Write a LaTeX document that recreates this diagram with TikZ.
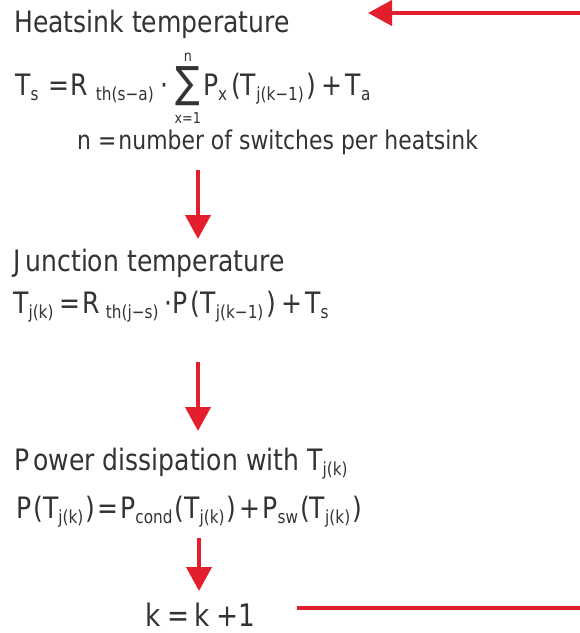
\documentclass[tikz,border=0pt]{standalone}
\usepackage{fontspec}
\setmainfont{DejaVu Sans}[FakeStretch=0.85]
\usetikzlibrary{arrows.meta}
\definecolor{txt}{RGB}{51,51,51}
\definecolor{redc}{RGB}{227,30,45}
\newcommand\fmain{\fontsize{29.5}{30}\selectfont}
\newcommand\sbx[1]{\raisebox{-5pt}{\fontsize{18}{18}\selectfont #1}}
\newcommand\limtxt[1]{\hbox{\fontsize{15}{15}\selectfont #1}}
\newcommand\bigsum{\mbox{$\displaystyle\mathop{\raisebox{-2pt}{\fontsize{43}{43}\selectfont ∑}}\limits^{\limtxt{n\rule[-3pt]{0pt}{3pt}}}_{\limtxt{\rule{0pt}{17pt}x=1}}$}}
\begin{document}
\begin{tikzpicture}[x=1pt,y=-1pt,
  txtnode/.style={anchor=base west, inner sep=0pt, text=txt, font=\fmain},
  flow/.style={draw=redc, line width=4pt, -{Triangle[length=24pt,width=25pt]}},
  loopline/.style={draw=redc, line width=4pt}]
\useasboundingbox (0,0) rectangle (580,633);
\node[txtnode] (h1) at (14,32) {Heatsink temperature};
\node[txtnode] (f1) at (15,95) {T\sbx{s}\hspace{10pt}=\hspace{1pt}R\hspace{8pt}\sbx{th(s−a)}\hspace{7pt}⋅\hspace{6pt}\bigsum\hspace{2pt}P\sbx{x}\hspace{4pt}(T\sbx{j(k−1)}\hspace{3pt})\hspace{5pt}+\hspace{3pt}T\sbx{a}};
\node[txtnode, font=\fontsize{25.8}{28}\selectfont] (nl) at (77,149) {n =\hspace{2pt}number of switches per heatsink};
\node[txtnode] (h2) at (13,271) {J\hspace{5pt}unction temperature};
\node[txtnode] (f2) at (13,313) {T\sbx{j(k)}\hspace{6pt}=\hspace{2pt}R\hspace{6pt}\sbx{th(j−s)}\hspace{6pt}⋅P\hspace{3pt}(T\sbx{j(k−1)}\hspace{3pt})\hspace{5pt}+\hspace{3pt}T\sbx{s}};
\node[txtnode] (h3) at (14,470) {P\hspace{4pt}ower dissipation with T\sbx{j(k)}};
\node[txtnode] (f3) at (16,518) {P\hspace{2pt}(T\sbx{j(k)}\hspace{2pt})\hspace{2pt}=\hspace{2pt}P\sbx{cond}\hspace{2pt}(T\sbx{j(k)}\hspace{2pt})\hspace{3pt}+\hspace{2pt}P\sbx{sw}\hspace{2pt}(T\sbx{j(k)}\hspace{2pt})};
\node[txtnode, font=\fontsize{31}{32}\selectfont] (kk) at (145,626) {k\hspace{7pt}=\hspace{5pt}k\hspace{7pt}+1};
\coordinate (a1s) at (198,170); \coordinate (a1e) at (198,239);
\coordinate (a2s) at (198,362); \coordinate (a2e) at (198,431);
\coordinate (a3s) at (199,538); \coordinate (a3e) at (199,591);
\coordinate (rt) at (580,13); \coordinate (lt) at (368,13);
\coordinate (bl) at (297,608); \coordinate (br) at (580,608);
\draw[flow] (a1s) -- (a1e);
\draw[flow] (a2s) -- (a2e);
\draw[flow] (a3s) -- (a3e);
\draw[flow] (rt) -- (lt);
\draw[loopline] (bl) -- (br);
\end{tikzpicture}
\end{document}
